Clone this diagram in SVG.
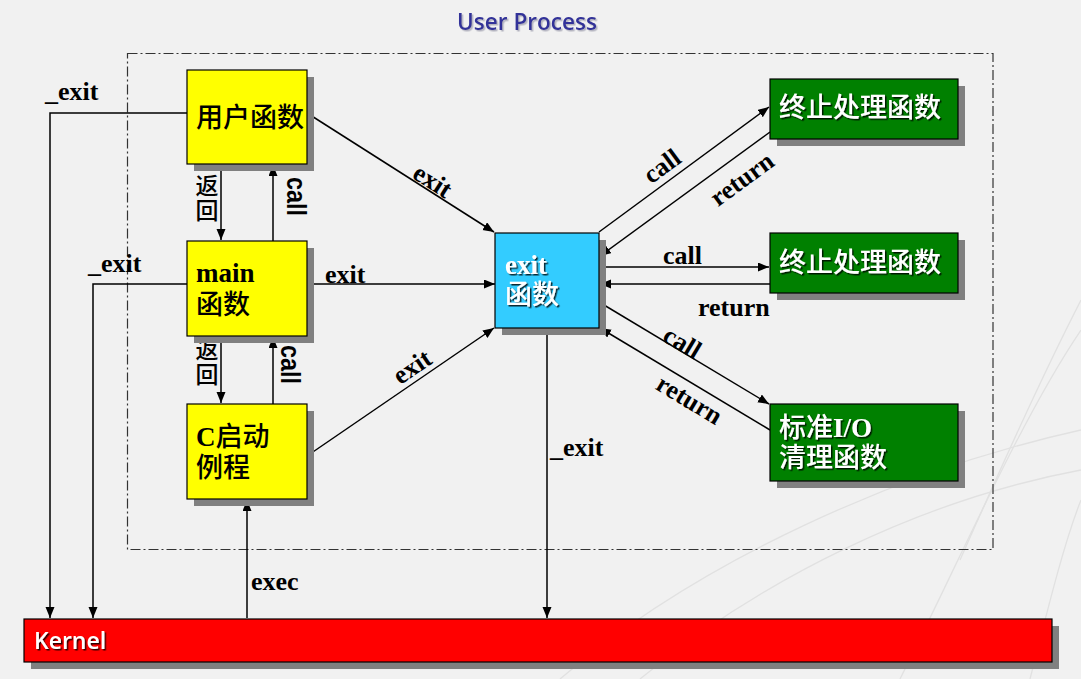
<svg xmlns="http://www.w3.org/2000/svg" width="1081" height="679" viewBox="0 0 1081 679">
<style>
.lbl{font-family:"Liberation Serif","Noto Sans CJK SC",serif;font-weight:bold;font-size:26px;fill:#000}
.cjk{font-weight:500}
.vcjk{font-family:"Noto Sans CJK SC",sans-serif;font-weight:500;font-size:23px;writing-mode:vertical-rl;letter-spacing:2px}
.vcall{font-family:"Liberation Sans",Arial,sans-serif;font-weight:bold;font-size:27px;fill:#000}
.ntxt{font-family:"Liberation Serif","Noto Sans CJK SC",serif;font-weight:bold;font-size:27px;fill:#000}
.wtxt{font-family:"Liberation Serif","Noto Sans CJK SC",serif;font-weight:bold;font-size:27px;fill:#fff;filter:url(#tshadow)}
.shadow{fill:#808080}
.box{stroke:#000;stroke-width:1.2}
.conn{fill:none;stroke:#000;stroke-width:1.5;marker-end:url(#arrow)}
.bgline{fill:none;stroke:#e1e1e1;stroke-width:1.3}
</style>
<defs>
<marker id="arrow" markerUnits="userSpaceOnUse" markerWidth="12" markerHeight="10" refX="11" refY="4.5" orient="auto">
<path d="M0,0 L11,4.5 L0,9 z" fill="#000"/>
</marker>
<filter id="tshadow" x="-10%" y="-10%" width="130%" height="140%">
<feDropShadow dx="1.5" dy="1.5" stdDeviation="0.3" flood-color="#000" flood-opacity="0.8"/>
</filter>
<filter id="tshadow2" x="-10%" y="-10%" width="130%" height="140%">
<feDropShadow dx="1.5" dy="1.5" stdDeviation="0.6" flood-color="#9999aa" flood-opacity="0.7"/>
</filter>
</defs>
<rect x="0" y="0" width="1081" height="679" fill="#f1f1f1"/>
<g id="background">
<path class="bgline" d="M560,679 C700,560 900,470 1081,430"/>
<path class="bgline" d="M640,679 C760,580 920,500 1081,470"/>
<path class="bgline" d="M900,679 C960,560 1020,420 1081,330"/>
<path class="bgline" d="M960,560 C1000,470 1040,380 1081,300"/>
<path class="bgline" d="M1030,679 C1050,600 1065,540 1081,500"/>
</g>
<text id="title" x="457" y="30" font-family="Open Sans,Liberation Sans,sans-serif" font-weight="600" font-size="24" fill="#333399" textLength="140" lengthAdjust="spacingAndGlyphs" filter="url(#tshadow2)">User Process</text>
<rect id="user-process-frame" x="127.5" y="53.5" width="865.5" height="496" fill="none" stroke="#333" stroke-width="1.2" stroke-dasharray="10 3 2 3"/>

<g id="connectors">
<polyline class="conn" points="187,113 50,113 50,618"/>
<polyline class="conn" points="187,284 93,284 93,618"/>
<line class="conn" x1="221" y1="164" x2="221" y2="240"/>
<line class="conn" x1="273" y1="241" x2="273" y2="165"/>
<line class="conn" x1="221" y1="336" x2="221" y2="403"/>
<line class="conn" x1="273" y1="404" x2="273" y2="337"/>
<line class="conn" x1="247" y1="618" x2="247" y2="500"/>
<line class="conn" x1="307" y1="113" x2="494" y2="232"/>
<line class="conn" x1="307" y1="284" x2="495" y2="284"/>
<line class="conn" x1="307" y1="456" x2="494" y2="328"/>
<line class="conn" x1="599" y1="232" x2="769" y2="107"/>
<line class="conn" x1="770" y1="132" x2="600" y2="256"/>
<line class="conn" x1="599" y1="267" x2="769" y2="267"/>
<line class="conn" x1="770" y1="284" x2="600" y2="284"/>
<line class="conn" x1="599" y1="302" x2="769" y2="404"/>
<line class="conn" x1="770" y1="430" x2="600" y2="328"/>
<line class="conn" x1="547" y1="328" x2="547" y2="618"/>
</g>

<g id="connector-labels">
<text class="lbl" x="45" y="100">_exit</text>
<text class="lbl" x="88" y="272">_exit</text>
<text class="lbl" x="325" y="283">exit</text>
<text class="lbl" x="550" y="456">_exit</text>
<text class="lbl" x="251" y="590">exec</text>
<text class="lbl" x="663" y="264">call</text>
<text class="lbl" x="698" y="316" font-size="27">return</text>
<text class="lbl" text-anchor="middle" transform="translate(428,188) rotate(32.5)">exit</text>
<text class="lbl" text-anchor="middle" transform="translate(417,374) rotate(-34.2)">exit</text>
<text class="lbl" text-anchor="middle" transform="translate(667,173) rotate(-36.3)">call</text>
<text class="lbl" text-anchor="middle" font-size="27" transform="translate(747,186) rotate(-36.3)">return</text>
<text class="lbl" text-anchor="middle" transform="translate(678,350) rotate(31)">call</text>
<text class="lbl" text-anchor="middle" font-size="27" transform="translate(685,407) rotate(31)">return</text>
<text class="vcall" textLength="39" lengthAdjust="spacingAndGlyphs" transform="translate(287,177) rotate(90)">call</text>
<text class="vcall" textLength="39" lengthAdjust="spacingAndGlyphs" transform="translate(281,345) rotate(90)">call</text>
<text class="vcjk" x="207" y="174">返回</text>
<text class="vcjk" x="207" y="338">返回</text>
</g>

<g id="node-user-func">
<rect class="shadow" x="194" y="77" width="120" height="94"/>
<rect class="box" x="187" y="70" width="120" height="94" fill="#ffff00"/>
<text class="ntxt" x="196" y="127"><tspan class="cjk">用户函数</tspan></text>
</g>
<g id="node-main">
<rect class="shadow" x="194" y="248" width="120" height="95"/>
<rect class="box" x="187" y="241" width="120" height="95" fill="#ffff00"/>
<text class="ntxt" x="196" y="282">main<tspan class="cjk" x="196" dy="32">函数</tspan></text>
</g>
<g id="node-c-start">
<rect class="shadow" x="194" y="411" width="120" height="95"/>
<rect class="box" x="187" y="404" width="120" height="95" fill="#ffff00"/>
<text class="ntxt" x="196" y="446">C<tspan class="cjk">启动</tspan><tspan class="cjk" x="196" dy="31">例程</tspan></text>
</g>
<g id="node-exit">
<rect class="shadow" x="502" y="240" width="104" height="95"/>
<rect class="box" x="495" y="233" width="104" height="95" fill="#33ccff"/>
<text class="wtxt" x="505" y="274">exit<tspan class="cjk" x="505" dy="30">函数</tspan></text>
</g>
<g id="node-term1">
<rect class="shadow" x="777" y="86" width="188" height="60"/>
<rect class="box" x="770" y="79" width="188" height="60" fill="#008000"/>
<text class="wtxt" x="779" y="117"><tspan class="cjk">终止处理函数</tspan></text>
</g>
<g id="node-term2">
<rect class="shadow" x="777" y="240" width="188" height="60"/>
<rect class="box" x="770" y="233" width="188" height="60" fill="#008000"/>
<text class="wtxt" x="779" y="272"><tspan class="cjk">终止处理函数</tspan></text>
</g>
<g id="node-stdio">
<rect class="shadow" x="777" y="411" width="188" height="77"/>
<rect class="box" x="770" y="404" width="188" height="77" fill="#008000"/>
<text class="wtxt" x="779" y="437"><tspan class="cjk">标准</tspan>I/O<tspan class="cjk" x="779" dy="30">清理函数</tspan></text>
</g>
<g id="node-kernel">
<rect class="shadow" x="31" y="626" width="1028" height="43"/>
<rect class="box" x="24" y="619" width="1028" height="43" fill="#ff0000"/>
<text x="34" y="649" font-family="Open Sans,Liberation Sans,sans-serif" font-weight="600" font-size="23" fill="#fff" filter="url(#tshadow)">Kernel</text>
</g>
</svg>
